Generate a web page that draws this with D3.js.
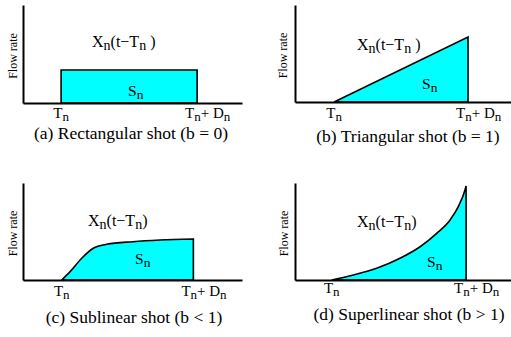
<!DOCTYPE html>
<html>
<head>
<meta charset="utf-8">
<script src="https://cdn.jsdelivr.net/npm/d3@7"></script>
<style>
  body { margin: 0; background: #fff; }
  svg { display: block; }
</style>
</head>
<body>
<svg id="chart" width="511" height="337" font-family="'Liberation Serif', 'Times New Roman', serif"></svg>
<script>
// shot shapes, time and flow rate on a 0-100 scale per panel
const rectTime = [17.4, 79.5];
const rectRate = [33.7, 33.7];
const triTime = [18.1, 80.1];
const triRate = [0, 67];
const subTime = [17.7, 21.5, 26.8, 32.1, 38.2, 50.2, 62.6, 77.8];
const subRate = [0, 8.6, 22.4, 32.7, 36.8, 39.5, 41.2, 42.3];
const supTime = [17.0, 27.0, 37.8, 48.6, 57.9, 65.6, 71.8, 75.6, 78.7, 79.2];
const supRate = [0, 5.2, 12.1, 22.4, 34.3, 48.1, 61.9, 75.6, 92.8, 96.9];

const captions = [
  "(a) Rectangular shot (b = 0)",
  "(b) Triangular shot (b = 1)",
  "(c) Sublinear shot (b < 1)",
  "(d) Superlinear shot (b > 1)"
];

const svg = d3.select('#chart');

// panel frames (pixel boxes of the axes)
const panels = [
  { left: 23, right: 242, top: 5, bottom: 103, time: rectTime, rate: rectRate, capX: 131, capY: 139, tnY: 117.5, xLab: [92, 47], sLab: [128, 96], flowX: 17, gap: ' ' },
  { left: 295, right: 511, top: 5, bottom: 102, time: triTime, rate: triRate, capX: 408, capY: 142, tnY: 117.5, xLab: [357, 50], sLab: [422, 89], flowX: 287, gap: ' ' },
  { left: 23, right: 242, top: 183, bottom: 280, time: subTime, rate: subRate, capX: 134, capY: 323, tnY: 295.5, xLab: [88, 226], sLab: [135, 264], flowX: 17, gap: '' },
  { left: 295, right: 511, top: 183, bottom: 280, time: supTime, rate: supRate, capX: 409, capY: 320, tnY: 292.5, xLab: [357, 227], sLab: [427, 267], flowX: 288, gap: '' }
];

// append pieces of text, every second piece as subscript
function subText(sel, parts, subSize) {
  parts.forEach((s, k) => {
    const t = sel.append('tspan').text(s);
    if (k % 2 === 1) t.attr('dy', 3).attr('font-size', subSize);
    else if (k > 0) t.attr('dy', -3);
  });
  return sel;
}

panels.forEach((p, i) => {
  const x = d3.scaleLinear().domain([0, 100]).range([p.left, p.right]);
  const y = d3.scaleLinear().domain([0, 100]).range([p.bottom, p.top]);
  const g = svg.append('g');

  const pts = p.time.map((t, j) => [t, p.rate[j]]);
  const area = d3.area()
    .x(d => x(d[0]))
    .y0(y(0))
    .y1(d => y(d[1]))
    .curve(d3.curveMonotoneX);

  g.append('path')
    .attr('d', area(pts))
    .attr('fill', '#00ffff')
    .attr('stroke', '#000')
    .attr('stroke-width', 1.6)
    .attr('stroke-linejoin', 'miter');

  // axes without ticks
  g.append('g')
    .attr('transform', `translate(0,${p.bottom})`)
    .call(d3.axisBottom(x).tickValues([]).tickSizeOuter(0))
    .call(a => a.select('.domain').attr('stroke-width', 2));
  g.append('g')
    .attr('transform', `translate(${p.left},0)`)
    .call(d3.axisLeft(y).tickValues([]).tickSizeOuter(0))
    .call(a => a.select('.domain').attr('stroke-width', 2));

  const t0 = p.time[0];
  const t1 = p.time[p.time.length - 1];

  // T_n and T_n + D_n labels
  subText(g.append('text')
    .attr('x', x(t0)).attr('y', p.tnY)
    .attr('text-anchor', 'middle')
    .attr('font-size', '15px'), ['T', 'n'], '13px');

  subText(g.append('text')
    .attr('x', x(t1) - 12).attr('y', p.tnY)
    .attr('font-size', '15px'), ['T', 'n', '+ D', 'n'], '13px');

  // X_n(t - T_n)
  subText(g.append('text')
    .attr('x', p.xLab[0]).attr('y', p.xLab[1])
    .attr('font-size', '16px'), ['X', 'n', '(t\u2212T', 'n', p.gap + ')'], '14px');

  // S_n
  subText(g.append('text')
    .attr('x', p.sLab[0]).attr('y', p.sLab[1])
    .attr('font-size', '15.5px'), ['S', 'n'], '13.5px');

  // Flow rate
  g.append('text')
    .attr('transform', `translate(${p.flowX},${(p.top + p.bottom) / 2 + 2}) rotate(-90)`)
    .attr('text-anchor', 'middle')
    .attr('font-size', '12px')
    .text('Flow rate');

  // caption
  g.append('text')
    .attr('x', p.capX).attr('y', p.capY)
    .attr('text-anchor', 'middle')
    .attr('font-size', '17.5px')
    .text(captions[i]);
});
</script>
</body>
</html>
